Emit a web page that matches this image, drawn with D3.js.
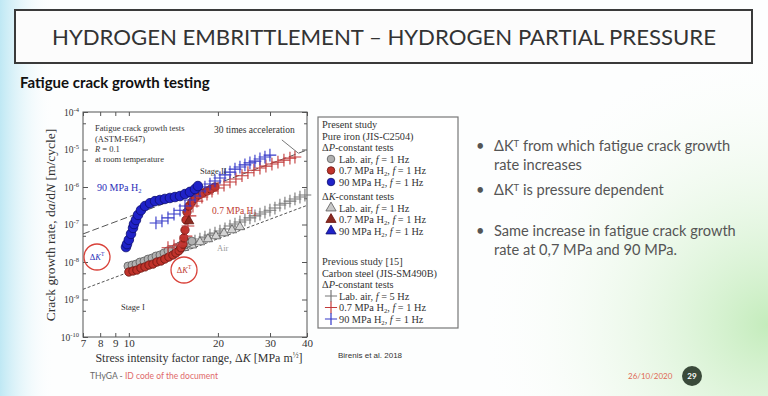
<!DOCTYPE html>
<html>
<head>
<meta charset="utf-8">
<script src="https://cdn.jsdelivr.net/npm/d3@7"></script>
<style>
  body { margin: 0; background: #fff; }
  svg { display: block; }
</style>
</head>
<body>
<svg width="768" height="396"></svg>
<script>
// values: dK in MPa m^1/2, da/dN in m/cycle
const airCircleK = [9.93, 10.25, 10.57, 10.90, 11.25, 11.61, 11.97, 12.35, 12.74, 13.14, 13.56, 13.98, 14.43, 14.89, 15.36, 15.84, 16.34];
const airCircleRate = [7.8e-9, 8.3e-9, 8.8e-9, 1.0e-8, 1.06e-8, 1.2e-8, 1.28e-8, 1.45e-8, 1.54e-8, 1.74e-8, 2.0e-8, 2.1e-8, 2.4e-8, 2.7e-8, 2.8e-8, 3.2e-8, 3.6e-8];

const h07CircleK = [10.0, 10.33, 10.65, 10.99, 11.34, 11.70, 12.07, 12.45, 12.84, 13.24, 13.66, 14.10, 14.43, 14.77, 15.00, 15.24, 15.36, 15.48, 15.60, 15.72, 15.97, 16.34, 16.73, 17.26, 17.80, 18.37, 18.95, 19.55];
const h07CircleRate = [5.4e-9, 5.75e-9, 6.1e-9, 6.9e-9, 7.4e-9, 8.3e-9, 8.8e-9, 1.0e-8, 1.06e-8, 1.2e-8, 1.36e-8, 1.54e-8, 1.74e-8, 2.0e-8, 2.4e-8, 3.0e-8, 4.4e-8, 7.1e-8, 1.32e-7, 2.15e-7, 3.1e-7, 4.0e-7, 5.1e-7, 6.1e-7, 6.9e-7, 7.8e-7, 8.8e-7, 1.0e-6];

const h90CircleK = [9.78, 9.86, 10.0, 10.17, 10.33, 10.41, 10.57, 10.74, 10.99, 11.34, 11.79, 12.26, 12.74, 13.24, 13.77, 14.32, 14.89, 15.48, 16.09, 16.73, 17.12];
const h90CircleRate = [2.5e-8, 3.0e-8, 3.9e-8, 5.6e-8, 8.1e-8, 1.03e-7, 1.32e-7, 1.8e-7, 2.4e-7, 3.1e-7, 3.7e-7, 4.2e-7, 4.5e-7, 4.8e-7, 5.1e-7, 5.4e-7, 5.75e-7, 6.5e-7, 7.4e-7, 8.8e-7, 1.06e-6];

const airTriK = [14.43, 15.36, 16.34, 17.39, 18.51, 19.70, 20.97, 22.31, 23.74];
const airTriRate = [2.0e-8, 2.4e-8, 2.8e-8, 3.4e-8, 4.1e-8, 4.9e-8, 5.9e-8, 7.1e-8, 8.6e-8];

const h07TriK = [15.97];
const h07TriRate = [1.24e-7];

const airPlusK = [15.48, 16.09, 16.73, 17.39, 18.08, 18.80, 19.55, 20.32, 21.13, 21.97, 22.84, 23.74, 24.68, 25.66, 26.68, 27.74, 28.84, 29.98, 31.17, 32.40, 33.69, 35.03, 36.42, 37.87, 39.36];
const airPlusRate = [2.8e-8, 3.2e-8, 3.6e-8, 4.1e-8, 4.6e-8, 5.2e-8, 5.9e-8, 6.7e-8, 7.6e-8, 9.1e-8, 1.03e-7, 1.17e-7, 1.32e-7, 1.5e-7, 1.7e-7, 1.9e-7, 2.15e-7, 2.4e-7, 2.75e-7, 3.3e-7, 3.7e-7, 4.2e-7, 4.8e-7, 5.4e-7, 6.1e-7];

const h07PlusK = [13.56, 14.21, 14.89, 15.60, 15.84, 16.09, 16.47, 16.99, 17.66, 18.37, 19.10, 20.01, 20.97, 21.97, 23.01, 24.12, 25.26, 26.47, 27.74, 29.06, 30.45, 31.91, 33.43, 35.03, 36.42];
const h07PlusRate = [2.4e-8, 2.7e-8, 3.0e-8, 4.9e-8, 9.1e-8, 1.7e-7, 3.1e-7, 4.2e-7, 5.4e-7, 6.5e-7, 7.8e-7, 9.4e-7, 1.13e-6, 1.36e-6, 1.63e-6, 2.0e-6, 2.4e-6, 2.8e-6, 3.2e-6, 3.6e-6, 4.1e-6, 4.6e-6, 5.2e-6, 5.9e-6, 6.3e-6];

const h90PlusK = [12.35, 12.94, 13.56, 14.21, 14.89, 15.48, 16.09, 16.73, 17.39, 18.08, 18.80, 19.55, 20.32, 21.13, 21.97, 22.84, 23.74, 24.68, 25.66, 26.68, 27.74, 28.84, 29.98];
const h90PlusRate = [1.1e-7, 1.24e-7, 1.5e-7, 1.9e-7, 2.4e-7, 3.1e-7, 4.5e-7, 5.75e-7, 7.8e-7, 1.0e-6, 1.2e-6, 1.45e-6, 1.74e-6, 2.1e-6, 2.5e-6, 3.0e-6, 3.4e-6, 3.9e-6, 4.4e-6, 4.9e-6, 5.6e-6, 6.3e-6, 7.1e-6];

// dashed power-law lines (30 times apart)
const fitK = [7, 40];
const hydrogenFitRate = [5.6e-8, 9.7e-6];
const airFitRate = [1.87e-9, 3.23e-7];

const xTicks = [7, 8, 9, 10, 20, 30, 40];
const yTicks = [1e-10, 1e-9, 1e-8, 1e-7, 1e-6, 1e-5, 1e-4];
const yMinorTicks = [5e-10, 5e-9, 5e-8, 5e-7, 5e-6, 5e-5];

const bullets = [
  ["ΔK^T from which fatigue crack growth", "rate increases"],
  ["ΔK^T is pressure dependent"],
  ["Same increase in fatigue crack growth", "rate at 0,7 MPa and 90 MPa."]
];

const svg = d3.select("svg");
const serif = "'Liberation Serif', 'Times New Roman', serif";
const sans = "Lato, 'Open Sans', sans-serif";

// ---- slide background ----
const defs = svg.append("defs");
const leftGrad = defs.append("linearGradient").attr("id", "leftGrad");
leftGrad.append("stop").attr("offset", "0%").attr("stop-color", "#bfe8f4");
leftGrad.append("stop").attr("offset", "100%").attr("stop-color", "#ffffff").attr("stop-opacity", 0);
const greenGrad = defs.append("radialGradient").attr("id", "greenGrad")
  .attr("cx", 1).attr("cy", 0.8).attr("r", 0.8);
greenGrad.append("stop").attr("offset", "0%").attr("stop-color", "#c4ecbc");
greenGrad.append("stop").attr("offset", "100%").attr("stop-color", "#ffffff").attr("stop-opacity", 0);

svg.append("rect").attr("width", 768).attr("height", 396).attr("fill", "#fdfefe");
svg.append("rect").attr("x", 400).attr("y", 40).attr("width", 368).attr("height", 356).attr("fill", "url(#greenGrad)");
svg.append("rect").attr("width", 55).attr("height", 396).attr("fill", "url(#leftGrad)");

// title box
svg.append("rect").attr("x", 15).attr("y", 10).attr("width", 737).attr("height", 53)
  .attr("fill", "#fcfcfc").attr("stroke", "#3a3a3a").attr("stroke-width", 2);
svg.append("text").attr("x", 384).attr("y", 45).attr("text-anchor", "middle")
  .attr("font-family", sans).attr("font-size", 21).attr("fill", "#333")
  .attr("textLength", 664).attr("lengthAdjust", "spacingAndGlyphs")
  .text("HYDROGEN EMBRITTLEMENT – HYDROGEN PARTIAL PRESSURE");

svg.append("text").attr("x", 20).attr("y", 88)
  .attr("font-family", sans).attr("font-size", 15).attr("font-weight", "bold").attr("fill", "#111")
  .text("Fatigue crack growth testing");

// rich text helper: *italic*, _x subscript, ^x superscript
function rich(t, s) {
  let i = 0, italic = false, pending = null;
  while (i < s.length) {
    const c = s[i];
    if (c === "*") { italic = !italic; i++; continue; }
    if (c === "_" || c === "^") {
      const up = c === "^" ? -4 : 2;
      t.append("tspan").attr("dy", (pending || 0) + up).attr("font-size", "65%").text(s[i + 1]);
      pending = -up;
      i += 2;
      continue;
    }
    let j = i;
    while (j < s.length && !"*_^".includes(s[j])) j++;
    t.append("tspan").attr("dy", pending).attr("font-style", italic ? "italic" : null).text(s.slice(i, j));
    pending = null;
    i = j;
  }
  return t;
}

// ---- chart ----
const x = d3.scaleLog().domain([7, 40]).range([83, 307]);
const y = d3.scaleLog().domain([1e-10, 1e-4]).range([337, 112]);
const plot = svg.append("g");

plot.append("rect").attr("x", 83).attr("y", 112).attr("width", 224).attr("height", 225)
  .attr("fill", "#fff").attr("stroke", "#555").attr("stroke-width", 1);

const axB = plot.append("g").attr("transform", "translate(0,337)")
  .call(d3.axisBottom(x).tickValues(xTicks).tickFormat(d3.format("d")).tickSizeInner(-4).tickSizeOuter(0).tickPadding(2));
plot.append("g").attr("transform", "translate(0,112)")
  .call(d3.axisTop(x).tickValues(xTicks).tickFormat("").tickSizeInner(-4).tickSizeOuter(0));
const axL = plot.append("g").attr("transform", "translate(83,0)")
  .call(d3.axisLeft(y).tickValues(yTicks).tickSizeInner(-5).tickSizeOuter(0).tickPadding(4));
plot.append("g").attr("transform", "translate(307,0)")
  .call(d3.axisRight(y).tickValues(yTicks).tickFormat("").tickSizeInner(-5).tickSizeOuter(0));
plot.append("g").attr("transform", "translate(83,0)")
  .call(d3.axisLeft(y).tickValues(yMinorTicks).tickFormat("").tickSizeInner(-3).tickSizeOuter(0));
plot.append("g").attr("transform", "translate(307,0)")
  .call(d3.axisRight(y).tickValues(yMinorTicks).tickFormat("").tickSizeInner(-3).tickSizeOuter(0));

plot.selectAll(".domain").remove();
plot.selectAll(".tick line").attr("stroke", "#555");
plot.selectAll(".tick text").attr("font-family", serif).attr("fill", "#333");
axB.selectAll(".tick text").attr("font-size", 11);
axL.selectAll(".tick text").attr("font-size", 9.5).each(function (d) {
  const e = Math.round(Math.log10(d));
  const t = d3.select(this).text("10");
  t.append("tspan").attr("dy", -4).attr("font-size", 6.5).text(e);
});

// axis titles
rich(plot.append("text").attr("transform", "translate(55,225) rotate(-90)").attr("text-anchor", "middle")
  .attr("font-family", serif).attr("font-size", 13.5).attr("fill", "#333"),
  "Crack growth rate, d*a*/d*N* [m/cycle]");
rich(plot.append("text").attr("x", 199).attr("y", 362).attr("text-anchor", "middle")
  .attr("font-family", serif).attr("font-size", 12).attr("fill", "#333"),
  "Stress intensity factor range, Δ*K* [MPa m^½]");

// fit lines
const line = d3.line().x(d => x(d[0])).y(d => y(d[1]));
plot.append("path").datum(d3.zip(fitK, hydrogenFitRate)).attr("d", line)
  .attr("fill", "none").attr("stroke", "#555").attr("stroke-width", 1).attr("stroke-dasharray", "7,3");
plot.append("path").datum(d3.zip(fitK, airFitRate)).attr("d", line)
  .attr("fill", "none").attr("stroke", "#555").attr("stroke-width", 1).attr("stroke-dasharray", "3,2");

// markers
const plusType = d3.symbolPlus || { draw(c, s) { const r = Math.sqrt(s) / 2; c.moveTo(-r, 0); c.lineTo(r, 0); c.moveTo(0, -r); c.lineTo(0, r); } };
const grayFill = "#b0b0b0", grayEdge = "#5a5a5a";
const redFill = "#c0332b", redEdge = "#6a1510";
const blueFill = "#1f22c8", blueEdge = "#0c0e70";

const series = [
  { k: airPlusK, r: airPlusRate, type: plusType, size: 55, stroke: "#777", fill: "none" },
  { k: airTriK, r: airTriRate, type: d3.symbolTriangle, size: 38, stroke: grayEdge, fill: "#d4d4d4" },
  { k: airCircleK, r: airCircleRate, type: d3.symbolCircle, size: 50, stroke: grayEdge, fill: grayFill },
  { k: h07CircleK, r: h07CircleRate, type: d3.symbolCircle, size: 55, stroke: redEdge, fill: redFill },
  { k: h07PlusK, r: h07PlusRate, type: plusType, size: 55, stroke: "#c23a3a", fill: "none" },
  { k: h90PlusK, r: h90PlusRate, type: plusType, size: 55, stroke: "#3438c8", fill: "none" },
  { k: h90CircleK, r: h90CircleRate, type: d3.symbolCircle, size: 72, stroke: blueEdge, fill: blueFill },
  { k: h07TriK, r: h07TriRate, type: d3.symbolTriangle, size: 40, stroke: redEdge, fill: "#8a2a20" }
];

series.forEach(s => {
  plot.append("g").selectAll("path").data(d3.zip(s.k, s.r)).join("path")
    .attr("transform", d => `translate(${x(d[0])},${y(d[1])})`)
    .attr("d", d3.symbol().type(s.type).size(s.size))
    .attr("fill", s.fill).attr("stroke", s.stroke).attr("stroke-width", s.fill === "none" ? 1.1 : 0.8);
});

// annotations in the plot
const note = plot.append("g").attr("font-family", serif).attr("font-size", 8.5).attr("fill", "#333");
rich(note.append("text").attr("x", 95).attr("y", 131), "Fatigue crack growth tests");
rich(note.append("text").attr("x", 95).attr("y", 142), "(ASTM-E647)");
rich(note.append("text").attr("x", 95).attr("y", 152), "*R* = 0.1");
rich(note.append("text").attr("x", 95).attr("y", 162), "at room temperature");
note.append("text").attr("x", 214).attr("y", 133).attr("font-size", 9.5).text("30 times acceleration");
plot.append("line").attr("x1", x(32.9)).attr("y1", y(1.8e-5)).attr("x2", x(37.3)).attr("y2", y(8.1e-6))
  .attr("stroke", "#555").attr("stroke-width", 0.8);
note.append("text").attr("x", 200).attr("y", 174).text("Stage II");
note.append("text").attr("x", 121).attr("y", 310).text("Stage I");
rich(note.append("text").attr("x", 97).attr("y", 191).attr("font-size", 10).attr("fill", "#2a2eb8"), "90 MPa H_2");
rich(note.append("text").attr("x", 212).attr("y", 214).attr("font-size", 9.5).attr("fill", "#c03a30"), "0.7 MPa H_2");
note.append("text").attr("x", 217).attr("y", 251).attr("fill", "#999").text("Air");

// dK^T circles
[[97, 257, "#2a2eb8"], [184, 270, "#c03a30"]].forEach(([cx, cy, col]) => {
  plot.append("circle").attr("cx", cx).attr("cy", cy).attr("r", 13)
    .attr("fill", "none").attr("stroke", "#d9423a").attr("stroke-width", 1.3);
  rich(note.append("text").attr("x", cx).attr("y", cy + 3).attr("text-anchor", "middle").attr("fill", col), "Δ*K*^T");
});

// ---- legend ----
const legendRows = [
  { t: "Present study" },
  { t: "Pure iron (JIS-C2504)" },
  { t: "Δ*P*-constant tests" },
  { t: "Lab. air, *f* = 1 Hz", sym: d3.symbolCircle, fill: grayFill, stroke: grayEdge },
  { t: "0.7 MPa H_2, *f* = 1 Hz", sym: d3.symbolCircle, fill: redFill, stroke: redEdge },
  { t: "90 MPa H_2, *f* = 1 Hz", sym: d3.symbolCircle, fill: blueFill, stroke: blueEdge },
  { t: "Δ*K*-constant tests", gap: 3 },
  { t: "Lab. air, *f* = 1 Hz", sym: d3.symbolTriangle, fill: "#c8c8c8", stroke: grayEdge },
  { t: "0.7 MPa H_2, *f* = 1 Hz", sym: d3.symbolTriangle, fill: "#8a2a20", stroke: redEdge },
  { t: "90 MPa H_2, *f* = 1 Hz", sym: d3.symbolTriangle, fill: blueFill, stroke: blueEdge },
  { t: "Previous study [15]", gap: 19 },
  { t: "Carbon steel (JIS-SM490B)" },
  { t: "Δ*P*-constant tests" },
  { t: "Lab. air, *f* = 5 Hz", sym: plusType, fill: "none", stroke: "#777" },
  { t: "0.7 MPa H_2, *f* = 1 Hz", sym: plusType, fill: "none", stroke: "#c23a3a" },
  { t: "90 MPa H_2, *f* = 1 Hz", sym: plusType, fill: "none", stroke: "#3438c8" }
];
const leg = svg.append("g");
leg.append("rect").attr("x", 318).attr("y", 117).attr("width", 140).attr("height", 211)
  .attr("fill", "#fff").attr("stroke", "#777").attr("stroke-width", 1.2);
let ly = 128;
legendRows.forEach(row => {
  ly += row.gap || 0;
  const tx = row.sym ? 339 : 322;
  rich(leg.append("text").attr("x", tx).attr("y", ly).attr("font-family", serif)
    .attr("font-size", 10.3).attr("fill", "#333"), row.t);
  if (row.sym) {
    leg.append("path").attr("transform", `translate(331,${ly - 3.5})`)
      .attr("d", d3.symbol().type(row.sym).size(row.sym === plusType ? 50 : 45))
      .attr("fill", row.fill).attr("stroke", row.stroke).attr("stroke-width", row.fill === "none" ? 1.2 : 0.8);
  }
  ly += 11.5;
});

svg.append("text").attr("x", 338).attr("y", 358).attr("font-family", "'Liberation Sans', Arial, sans-serif")
  .attr("font-size", 8).attr("fill", "#333").text("Birenis et al. 2018");

// ---- bullets ----
const bl = svg.append("g").attr("font-family", sans).attr("font-size", 14.6).attr("fill", "#555");
const bulletY = [151, 195, 236];
bullets.forEach((lines, i) => {
  bl.append("text").attr("x", 476).attr("y", bulletY[i]).text("•");
  lines.forEach((ln, j) => {
    rich(bl.append("text").attr("x", 494).attr("y", bulletY[i] + j * 19), ln);
  });
});

// ---- footer ----
const foot = svg.append("text").attr("x", 90).attr("y", 379).attr("font-family", sans).attr("font-size", 8.5);
foot.append("tspan").attr("fill", "#666").text("THyGA - ");
foot.append("tspan").attr("fill", "#e06a6a").text("ID code of the document");
svg.append("text").attr("x", 628).attr("y", 379).attr("font-family", sans).attr("font-size", 8)
  .attr("fill", "#e06a55").text("26/10/2020");
svg.append("circle").attr("cx", 692).attr("cy", 376).attr("r", 10).attr("fill", "#3a4a3a");
svg.append("text").attr("x", 692).attr("y", 379).attr("text-anchor", "middle").attr("font-family", sans)
  .attr("font-size", 8).attr("font-weight", "bold").attr("fill", "#fff").text("29");
</script>
</body>
</html>
